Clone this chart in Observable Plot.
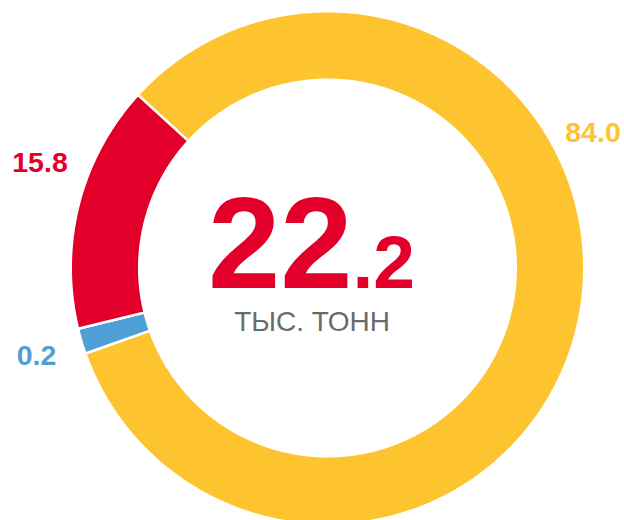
<!DOCTYPE html>
<html>
<head>
<meta charset="utf-8">
<script src="https://cdn.jsdelivr.net/npm/d3@7"></script>
<script src="https://cdn.jsdelivr.net/npm/@observablehq/plot@0.6"></script>
<style>
  html, body { margin: 0; padding: 0; background: #fff; }
  #chart { width: 624px; height: 520px; overflow: hidden; }
  svg { font-family: "Liberation Sans", Arial, Helvetica, sans-serif; }
</style>
</head>
<body>
<div id="chart"></div>
<script>
// ---- data ----
const categories = ["Желтый", "Синий", "Красный"];
const values = [84.0, 0.2, 15.8];
const valueLabels = ["84.0", "0.2", "15.8"];
const colors = ["#FEC42F", "#4F9FD7", "#E2002B"];
const totalInt = "22";
const totalDec = ".2";
const unitLabel = "ТЫС. ТОНН";

// ---- layout (pixel units, centre of ring at 0,0) ----
const W = 624, H = 520;
const cx = 327, cy = 267.5;
const rOuter = 256.8, rInner = 188.2;
const startAngle = -47.6 * Math.PI / 180; // clockwise from north
const minShare = 0.016;                  // smallest drawn slice share
const labelPos = [[265.5, 135], [-291, -87.5], [-287.5, 105]];

// slice angles
const total = d3.sum(values);
const shares = values.map(v => v / total);
const small = shares.map(s => s < minShare);
const rest = 1 - d3.sum(small.map((s, i) => s ? minShare : 0));
const restTotal = d3.sum(shares.filter((s, i) => !small[i]));
const drawShares = shares.map((s, i) => small[i] ? minShare : s / restTotal * rest);

let a = startAngle;
const slices = categories.map((c, i) => {
  const a0 = a, a1 = a + drawShares[i] * 2 * Math.PI;
  a = a1;
  const n = Math.max(4, Math.ceil((a1 - a0) / 0.01));
  const pts = [];
  for (let k = 0; k <= n; k++) {
    const t = a0 + (a1 - a0) * k / n;
    pts.push({x: rOuter * Math.sin(t), y: rOuter * Math.cos(t)});
  }
  for (let k = n; k >= 0; k--) {
    const t = a0 + (a1 - a0) * k / n;
    pts.push({x: rInner * Math.sin(t), y: rInner * Math.cos(t)});
  }
  return {category: c, color: colors[i], pts};
});

const labels = categories.map((c, i) => ({
  text: valueLabels[i], color: colors[i], x: labelPos[i][0], y: labelPos[i][1]
}));

const chart = Plot.plot({
  width: W, height: H,
  margin: 0,
  x: {domain: [-cx, W - cx], axis: null},
  y: {domain: [-(H - cy), cy], axis: null},
  marks: [
    ...slices.map(s => Plot.line(s.pts, {
      x: "x", y: "y", curve: "linear-closed",
      fill: s.color, stroke: "white", strokeWidth: 2.6, clip: true
    })),
    Plot.text(labels, {
      x: "x", y: "y", text: "text", fill: d => d.color,
      fontSize: 28.5, fontWeight: "bold", textAnchor: "middle", lineAnchor: "middle"
    }),
    Plot.text([totalInt], {
      x: () => 25, y: () => -19.5, text: d => d, fill: colors[2],
      fontSize: 130, fontWeight: "bold", textAnchor: "end", lineAnchor: "bottom"
    }),
    Plot.text([totalDec], {
      x: () => 25, y: () => -19.5, text: d => d, fill: colors[2],
      fontSize: 75, fontWeight: "bold", textAnchor: "start", lineAnchor: "bottom"
    }),
    Plot.text([unitLabel], {
      x: () => -15.5, y: () => -62.5, text: d => d, fill: "#6B6B6B",
      fontSize: 28, textAnchor: "middle", lineAnchor: "bottom"
    })
  ]
});
document.getElementById("chart").appendChild(chart);
</script>
</body>
</html>
